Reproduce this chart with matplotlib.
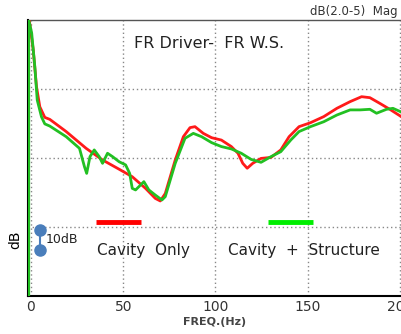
import matplotlib
matplotlib.use("Agg")
import matplotlib.pyplot as plt

# FR Driver - FR W.S. (cavity only = red, cavity + structure = green)
red_hz = [-0.9, 1.25, 3.0, 4.8, 7.5, 10.2, 19.1, 29.9, 38.8, 47.8, 54.9, 62.1, 67.4, 70.1,
          72.8, 78.2, 82.6, 86.2, 88.9, 93.4, 97.9, 103.2, 108.6, 112.2, 114.8, 117.2,
          120.2, 124.7, 130.1, 135.4, 139.9, 145.3, 151.5, 158.7, 165.8, 173.0, 179.2,
          183.7, 189.1, 194.5, 201.0]
red_db = [140, 124.8, 106.2, 96.0, 90.6, 89.6, 83.4, 74.9, 69.0, 64.3, 60.5, 54.6, 49.5, 48.2,
          52.0, 69.0, 80.8, 85.4, 85.9, 82.5, 80.3, 79.1, 75.8, 72.4, 67.3, 64.8,
          67.3, 69.8, 70.3, 74.1, 80.8, 85.9, 87.9, 91.0, 95.2, 98.6, 101.1,
          100.6, 97.7, 94.7, 90.8]

green_hz = [-1.2, -1.2, 0.4, 2.1, 3.4, 5.7, 7.5, 10.2, 19.1, 26.3, 29.0, 30.2, 32.0, 34.3,
            37.0, 38.8, 41.5, 44.2, 47.8, 51.3, 53.5, 54.9, 56.7, 59.4, 61.2, 63.9, 67.4,
            71.0, 72.8, 78.2, 83.5, 88.0, 92.5, 97.9, 103.2, 108.6, 114.0, 119.3, 124.7,
            130.1, 135.4, 140.8, 145.3, 151.5, 158.7, 165.8, 173.0, 178.4, 183.7, 187.3,
            192.7, 196.2, 201.0]
green_db = [0, 140, 133.3, 116.3, 99.4, 90.9, 87.3, 86.2, 80.8, 74.9, 65.6, 62.2, 70.7, 74.1,
            70.7, 67.3, 72.4, 70.7, 68.1, 66.5, 62.2, 54.6, 53.8, 56.3, 58.0, 53.8, 51.2,
            48.7, 50.4, 67.3, 80.0, 82.5, 80.8, 77.8, 75.8, 74.6, 72.4, 69.3, 67.8,
            70.7, 73.2, 79.1, 83.4, 85.9, 88.4, 91.8, 94.4, 94.4, 94.7, 92.7,
            94.7, 95.2, 93.2]

x_ticks = [0, 50, 100, 150, 200]
y_grid = [35, 70, 105]

fig = plt.figure(figsize=(4.02, 3.34), dpi=100)
ax = fig.add_axes([28 / 402, 38 / 334, 374 / 402, 276 / 334])

ax.plot(red_hz, red_db, color="#ff1a1a", lw=2, solid_joinstyle="round", zorder=3)
ax.plot(green_hz, green_db, color="#22c022", lw=2, solid_joinstyle="round", zorder=3)

ax.set_xlim(-1.6, 201.1)
ax.set_ylim(0, 140)
ax.set_xticks(x_ticks)
ax.set_xticklabels([str(t) for t in x_ticks], fontsize=10, color="#333333")
ax.set_yticks(y_grid)
ax.set_yticklabels([])
ax.tick_params(length=0, pad=3)
ax.grid(True, ls=(0, (1, 2)), color="#888888", lw=1)

ax.spines["right"].set_visible(False)
ax.spines["left"].set_linewidth(1.5)
ax.spines["bottom"].set_linewidth(1.5)
ax.spines["top"].set_color("#555555")
ax.spines["top"].set_linewidth(1)

# legend-ish markers
ax.plot([35, 59.6], [37.5, 37.5], color="#ff0000", lw=3.5, solid_capstyle="butt")
ax.plot([128.3, 153], [37.5, 37.5], color="#00ee00", lw=3.5, solid_capstyle="butt")
ax.text(61.2, 23.3, "Cavity  Only", fontsize=11, ha="center", va="center", color="#222222")
ax.text(148, 23.3, "Cavity  +  Structure", fontsize=11, ha="center", va="center", color="#222222")
ax.text(96.5, 128.3, "FR Driver-  FR W.S.", fontsize=11.5, ha="center", va="center", color="#222222")

# 10 dB scale marker
ax.plot([4.9, 4.9], [23.3, 33.5], color="#4a7ebb", lw=1.5, marker="o", ms=8)
ax.text(7.8, 28.5, "10dB", fontsize=9, ha="left", va="center", color="#222222")

fig.text(15 / 402, 1 - 240 / 334, "dB", rotation=90, fontsize=10, ha="center", va="center")
fig.text(215 / 402, 1 - 322 / 334, "FREQ.(Hz)", fontsize=8, fontweight="bold", ha="center",
         va="center", color="#444444")
fig.text(310 / 402, 1 - 11 / 334, "dB(2.0-5)  Mag", fontsize=8.5, ha="left", va="center",
         color="#333333")

fig.savefig("out.png", dpi=100)
